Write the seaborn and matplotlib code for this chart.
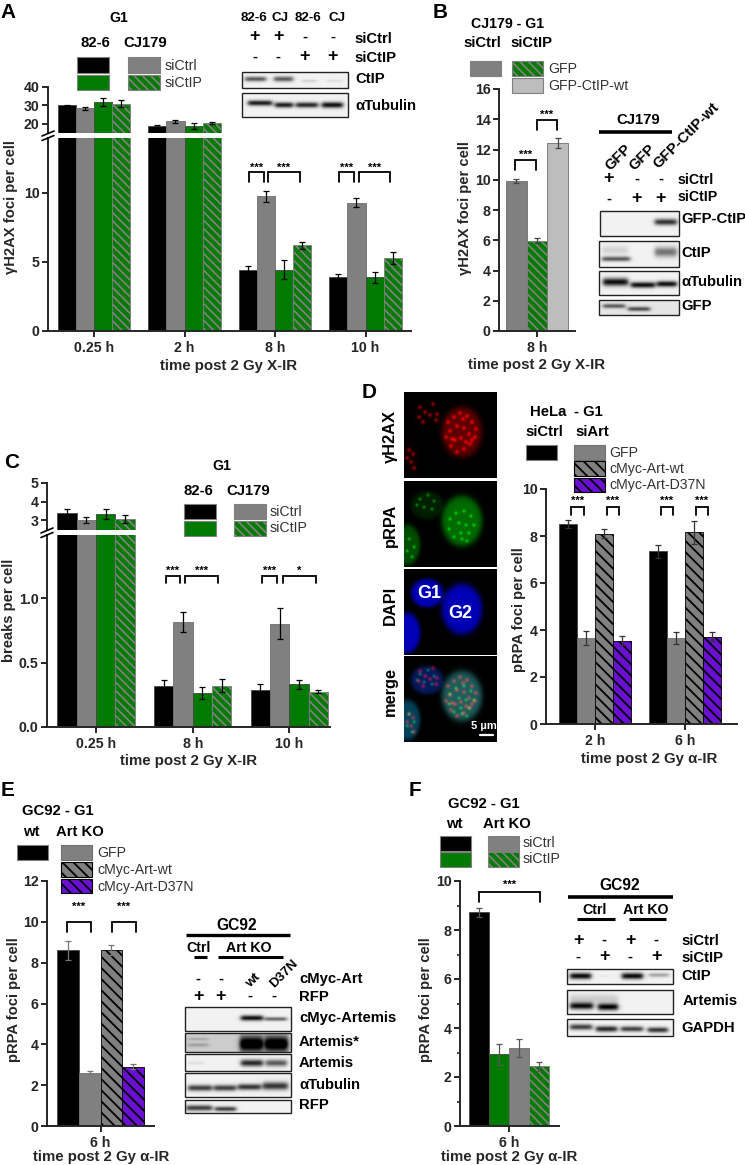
import numpy as np
import pandas as pd
import matplotlib
matplotlib.use('Agg')
import matplotlib.pyplot as plt
from matplotlib.patches import Rectangle
import seaborn as sns

# ---- values ----
series_a = ['82-6 siCtrl', 'CJ179 siCtrl', '82-6 siCtIP', 'CJ179 siCtIP']
times_a = ['0.25 h', '2 h', '8 h', '10 h']
foci_a = [30.2, 28.4, 31.8, 31.0, 18.8, 21.5, 18.8, 20.6, 4.4, 9.75, 4.45, 6.2, 3.9, 9.3, 3.9, 5.3]
err_a = [0.3, 1.0, 2.3, 2.0, 0.5, 0.8, 1.5, 0.7, 0.3, 0.4, 0.7, 0.25, 0.25, 0.35, 0.4, 0.45]

series_b = ['siCtrl GFP', 'siCtIP GFP', 'siCtIP GFP-CtIP-wt']
times_b = ['8 h']
foci_b = [9.93, 5.97, 12.43]
err_b = [0.15, 0.15, 0.35]

times_c = ['0.25 h', '8 h', '10 h']
breaks_c = [3.4, 3.0, 3.33, 3.05, 0.315, 0.815, 0.265, 0.32, 0.29, 0.80, 0.33, 0.275]
err_c = [0.2, 0.15, 0.25, 0.2, 0.05, 0.08, 0.045, 0.05, 0.04, 0.12, 0.035, 0.015]

series_d = ['siCtrl', 'GFP', 'cMyc-Art-wt', 'cMyc-Art-D37N']
times_d = ['2 h', '6 h']
foci_d = [8.5, 3.65, 8.1, 3.55, 7.35, 3.65, 8.15, 3.72]
err_d = [0.18, 0.3, 0.18, 0.2, 0.27, 0.25, 0.47, 0.2]

times_e = ['6 h']
foci_e = [8.6, 2.62, 8.63, 2.9]
err_e = [0.45, 0.05, 0.25, 0.12]

series_f = ['wt siCtrl', 'wt siCtIP', 'KO siCtrl', 'KO siCtIP']
foci_f = [8.72, 2.92, 3.18, 2.43]
err_f = [0.18, 0.42, 0.38, 0.2]

BLACK, GRAY, GREEN, LIGHT, PURPLE = '#000000', '#808080', '#007a00', '#bdbdbd', '#6a10d0'
HATCH_GREEN = '\\\\\\\\'
HATCH_DARK = '\\\\\\'

W, H = 745, 1165
sns.set_style('ticks')
plt.rcParams['font.family'] = ['Liberation Sans', 'DejaVu Sans']
plt.rcParams['font.weight'] = 'bold'
plt.rcParams['font.size'] = 10.2
plt.rcParams['axes.labelweight'] = 'bold'
plt.rcParams['hatch.linewidth'] = 1.3
plt.rcParams['axes.linewidth'] = 1.4

fig = plt.figure(figsize=(W / 100, H / 100), dpi=100)


def px_axes(left, right, top, bottom):
    return fig.add_axes([left / W, 1 - bottom / H, (right - left) / W, (bottom - top) / H])


def bars(ax, times, series, vals, errs, colors, hatches, x0, dx, left, right, ylim, ecol='black'):
    df = pd.DataFrame({
        'time': np.repeat(times, len(series)),
        'series': list(series) * len(times),
        'val': vals,
    })
    sns.barplot(data=df, x='time', y='val', hue='series', order=times, hue_order=series,
                palette=dict(zip(series, colors)), errorbar=None, saturation=1,
                legend=False, width=0.8, ax=ax)
    ax.set_xlim((left - x0) / dx, (right - x0) / dx)
    ax.set_ylim(*ylim)
    patches = sorted(ax.patches, key=lambda p: p.get_x())
    n = len(series)
    for i, p in enumerate(patches):
        c, h = colors[i % n], hatches[i % n]
        if h:
            hatch_col = 'black' if c in (GRAY, PURPLE) else GRAY
            p.set_hatch(h)
            p.set_edgecolor(hatch_col)
            p.set_linewidth(0.6)
        else:
            p.set_edgecolor('#444444' if c != GRAY and c != LIGHT else '#707070')
            p.set_linewidth(0.6)
    xs = [p.get_x() + p.get_width() / 2 for p in patches]
    ax.errorbar(xs, vals, yerr=errs, fmt='none', ecolor=ecol, elinewidth=0.9, capsize=2.4, capthick=0.9)
    ax.tick_params(width=1.4, length=4, pad=2)
    ax.tick_params(axis='x', pad=3)
    sns.despine(ax=ax)


def labels(ax, xl, yl, xlab, ylab, left, right, top, bottom):
    ax.set_xlabel(xl, fontsize=10.8)
    ax.set_ylabel(yl, fontsize=10.6)
    ax.xaxis.set_label_coords((xlab[0] - left) / (right - left), (bottom - xlab[1]) / (bottom - top), transform=ax.transAxes)
    ax.yaxis.set_label_coords((ylab[0] - left) / (right - left), (bottom - ylab[1]) / (bottom - top), transform=ax.transAxes)
    ax.xaxis.label.set_va('center')
    ax.yaxis.label.set_va('center')


colors_a = [BLACK, GRAY, GREEN, GREEN]
hatch_a = [None, None, None, HATCH_GREEN]

# panel A, broken y axis
ax = px_axes(48, 411, 138, 331)
bars(ax, times_a, series_a, foci_a, err_a, colors_a, hatch_a, 94, 90.5, 48, 411, (0, 13.98))
ax.set_yticks([0, 5, 10])
labels(ax, 'time post 2 Gy X-IR', 'γH2AX foci per cell', (229, 366), (11, 207), 48, 411, 138, 331)
ax = px_axes(48, 411, 87, 133)
bars(ax, times_a, series_a, foci_a, err_a, colors_a, hatch_a, 94, 90.5, 48, 411, (15.1, 40))
ax.spines['bottom'].set_visible(False)
ax.set_xticks([])
ax.set_yticks([20, 30, 40])
ax.set_xlabel('')
ax.set_ylabel('')

# panel B
ax = px_axes(499, 575, 89, 331)
bars(ax, times_b, series_b, foci_b, err_b, [GRAY, GREEN, LIGHT], [None, HATCH_GREEN, None], 537, 77.5, 499, 575, (0, 16), '#444444')
ax.set_yticks(range(0, 17, 2))
labels(ax, 'time post 2 Gy X-IR', 'γH2AX foci per cell', (537, 365), (465, 208), 499, 575, 89, 331)

# panel C, broken y axis
ax = px_axes(47, 330, 535, 727)
bars(ax, times_c, series_a, breaks_c, err_c, colors_a, hatch_a, 96, 96.7, 47, 330, (0, 1.49))
ax.set_yticks([0, 0.5, 1.0])
ax.set_yticklabels(['0.0', '0.5', '1.0'])
labels(ax, 'time post 2 Gy X-IR', 'breaks per cell', (189, 761), (9, 610), 47, 330, 535, 727)
ax = px_axes(47, 330, 483, 530)
bars(ax, times_c, series_a, breaks_c, err_c, colors_a, hatch_a, 96, 96.7, 47, 330, (2.46, 5))
ax.spines['bottom'].set_visible(False)
ax.set_xticks([])
ax.set_yticks([3, 4, 5])
ax.set_xlabel('')
ax.set_ylabel('')

# panel D
ax = px_axes(546, 737, 489, 724)
bars(ax, times_d, series_d, foci_d, err_d, [BLACK, GRAY, GRAY, PURPLE], [None, None, HATCH_DARK, HATCH_DARK], 595, 90, 546, 737, (0, 10), '#333333')
ax.set_yticks(range(0, 11, 2))
labels(ax, 'time post 2 Gy α-IR', 'pRPA foci per cell', (649, 759), (519, 610), 546, 737, 489, 724)

# panel E
ax = px_axes(47, 154, 881, 1126)
bars(ax, times_e, series_d, foci_e, err_e, [BLACK, GRAY, GRAY, PURPLE], [None, None, HATCH_DARK, HATCH_DARK], 100.5, 108.75, 47, 154, (0, 12), '#777777')
ax.set_yticks(range(0, 13, 2))
labels(ax, 'time post 2 Gy α-IR', 'pRPA foci per cell', (101, 1157), (14, 1000), 47, 154, 881, 1126)

# panel F
ax = px_axes(460, 559, 881, 1126)
bars(ax, times_e, series_f, foci_f, err_f, [BLACK, GREEN, GRAY, GREEN], [None, None, None, HATCH_GREEN], 509, 100, 460, 559, (0, 10), '#555555')
ax.set_yticks(range(0, 11, 2))
ax.set_yticks(range(1, 11, 2), minor=True)
ax.tick_params(which='minor', width=1.2, length=2.5)
labels(ax, 'time post 2 Gy α-IR', 'pRPA foci per cell', (509, 1157), (426, 1000), 460, 559, 881, 1126)

# overlay in figure pixels for legends, brackets, blots and micrographs
ov = fig.add_axes([0, 0, 1, 1])
ov.set_xlim(0, W)
ov.set_ylim(H, 0)
ov.axis('off')
ov.patch.set_alpha(0)


def t(x, y, s, ha='center', fs=9.5, w='bold', rot=0, color='black', va='center'):
    ov.text(x, y, s, ha=ha, va=va, fontsize=fs * 1.07, fontweight=w, rotation=rot, color=color,
            rotation_mode='anchor' if rot else 'default')


def swatch(x0, y0, x1, y1, color, hatch=None, ec=None):
    if ec is None:
        ec = 'black' if color in (GRAY, PURPLE) and hatch else GRAY
    ov.add_patch(Rectangle((x0, y0), x1 - x0, y1 - y0, facecolor=color, edgecolor=ec, hatch=hatch, lw=0.8))


def bracket(x0, x1, top, bot, star='***', sy=None, lw=1.3):
    ov.plot([x0, x0, x1, x1], [bot, top, top, bot], color='black', lw=lw, solid_joinstyle='miter')
    t((x0 + x1) / 2, (top - 3) if sy is None else sy, star, fs=7.5, w='bold')


def rule(x0, x1, y, lw=2.2):
    ov.plot([x0, x1], [y, y], color='black', lw=lw, solid_capstyle='butt')


def breakmark(x, y):
    for d in (-2, 2.5):
        ov.plot([x - 6, x + 6], [y + d + 2.5, y + d - 2.5], color='black', lw=1.2)


def signs(xs, y, marks):
    for x, m in zip(xs, marks):
        t(x, y, m, fs=12 if m == '+' else 10)


def blot(x0, y0, x1, y1, bands, bg=0.95, lw=1.0):
    xx, yy = np.meshgrid(np.linspace(x0, x1, int((x1 - x0) * 3)), np.linspace(y0, y1, int((y1 - y0) * 3)))
    img = np.full(xx.shape, float(bg))
    for xa, xb, yc, th, dark in bands:
        prof = (1 / (1 + np.exp(-(xx - xa) * 0.8))) * (1 / (1 + np.exp((xx - xb) * 0.8)))
        img -= dark * prof * np.exp(-((yy - yc) / (th * 1.25)) ** 2)
    ov.imshow(np.clip(img, 0, 1), cmap='gray', vmin=0, vmax=1, extent=(x0, x1, y1, y0), aspect='auto', interpolation='bilinear')
    ov.add_patch(Rectangle((x0, y0), x1 - x0, y1 - y0, fill=False, edgecolor='#222222', lw=lw))


# panel letters
for x, y, s in [(8, 12, 'A'), (440, 12, 'B'), (12, 462, 'C'), (369, 393, 'D'), (8, 791, 'E'), (415, 791, 'F')]:
    t(x, y, s, fs=14)

# A annotations
t(119, 18, 'G1')
t(95, 43, '82-6', fs=10)
t(145, 43, 'CJ179', fs=10)
swatch(77, 57, 109, 73, BLACK)
swatch(77, 75, 109, 90, GREEN)
swatch(128, 57, 160, 73, GRAY)
swatch(128, 75, 160, 90, GREEN, HATCH_GREEN)
t(165, 66, 'siCtrl', ha='left', w='normal', color='#333333')
t(165, 83, 'siCtIP', ha='left', w='normal', color='#333333')
breakmark(48, 135.5)
bracket(249, 264, 172, 182, sy=168)
bracket(268, 300, 172, 182, sy=168)
bracket(339, 354, 172, 182, sy=168)
bracket(359, 390, 172, 182, sy=168)
for x, s in [(254, '82-6'), (280, 'CJ'), (308, '82-6'), (337, 'CJ')]:
    t(x, 18, s, fs=9)
signs([255, 278, 305, 333], 37, '++--')
signs([255, 278, 305, 333], 57, '--++')
t(354, 39, 'siCtrl', ha='left', fs=10)
t(354, 58, 'siCtIP', ha='left', fs=10)
blot(242, 72, 348, 88, [(245, 266, 79, 2.0, 0.6), (274, 293, 79, 2.2, 0.6), (302, 317, 81, 1.2, 0.12), (327, 343, 81, 1.2, 0.08)])
blot(242, 93, 348, 117, [(248, 272, 103, 2.2, 0.85), (275, 293, 105, 2.2, 0.85), (296, 318, 105, 2.2, 0.8), (322, 343, 105, 2.4, 0.9)])
t(355, 79, 'CtIP', ha='left', fs=10)
t(355, 106, 'αTubulin', ha='left', fs=10)

# B annotations
t(508, 24, 'CJ179 - G1')
t(482, 43, 'siCtrl', fs=10)
t(531, 43, 'siCtIP', fs=10)
swatch(470, 61, 501, 76, GRAY)
swatch(512, 61, 543, 76, GREEN, HATCH_GREEN)
swatch(512, 78, 543, 93, LIGHT)
t(548, 69, 'GFP', ha='left', w='normal', color='#333333')
t(548, 86, 'GFP-CtIP-wt', ha='left', w='normal', color='#333333')
bracket(515, 536, 160, 170, sy=155)
bracket(537, 557, 120, 130, sy=115)
t(638, 120, 'CJ179', fs=10)
rule(599, 672, 132, 2.6)
t(608, 168, 'GFP', ha='left', rot=45, fs=10)
t(632, 168, 'GFP', ha='left', rot=45, fs=10)
t(656, 166, 'GFP-CtIP-wt', ha='left', rot=45, fs=10)
signs([609, 637, 661], 179, '+--')
signs([609, 637, 661], 199, '-++')
t(678, 180, 'siCtrl', ha='left')
t(678, 197, 'siCtIP', ha='left')
blot(600, 211, 679, 236, [(655, 677, 222, 2.6, 0.75)])
blot(599, 241, 679, 267, [(602, 630, 259, 2.0, 0.6), (655, 677, 252, 4.0, 0.5), (602, 628, 250, 3.5, 0.12)])
blot(599, 271, 679, 295, [(603, 628, 282, 3.2, 0.9), (631, 655, 285, 2.4, 0.9), (657, 677, 284, 2.4, 0.9)])
blot(599, 300, 679, 315, [(603, 625, 306, 1.8, 0.55), (628, 650, 309, 1.8, 0.6)], bg=0.9)
t(681, 219, 'GFP-CtIP', ha='left', fs=10)
t(681, 253, 'CtIP', ha='left', fs=10)
t(681, 282, 'αTubulin', ha='left', fs=10)
t(681, 306, 'GFP', ha='left', fs=10)

# C annotations
t(222, 466, 'G1')
t(198, 491, '82-6', fs=10)
t(248, 491, 'CJ179', fs=10)
swatch(184, 504, 216, 519, BLACK)
swatch(184, 521, 216, 536, GREEN)
swatch(234, 504, 266, 519, GRAY)
swatch(234, 521, 266, 536, GREEN, HATCH_GREEN)
t(270, 512, 'siCtrl', ha='left', w='normal', color='#333333')
t(270, 528, 'siCtIP', ha='left', w='normal', color='#333333')
breakmark(47, 532.5)
bracket(166, 180, 576, 583, sy=571)
bracket(185, 218, 576, 583, sy=571)
bracket(262, 277, 576, 583, sy=571)
bracket(283, 316, 576, 583, '*', sy=571)

# D micrographs, spot positions in panel pixels
red_g2 = [(44, 30), (50, 25), (56, 21), (63, 24), (68, 30), (72, 37), (71, 45), (66, 52), (60, 57), (53, 60), (47, 54),
          (42, 45), (46, 39), (53, 34), (60, 36), (65, 42), (57, 46), (51, 48), (59, 27), (48, 47), (68, 48), (62, 50)]
red_g1 = [(16, 15), (21, 20), (29, 12), (33, 22), (32, 28), (26, 23), (19, 30), (15, 25)]
red_low = [(5, 58), (9, 62), (7, 70), (10, 76), (3, 66)]
green_g2 = [(46, 38), (52, 32), (60, 30), (67, 35), (70, 44), (65, 52), (58, 58), (50, 56), (45, 48), (55, 42), (62, 44), (63, 60), (57, 52)]
green_g1 = [(16, 18), (24, 14), (30, 20), (20, 26), (28, 28), (13, 24)]
green_low = [(5, 58), (10, 66), (3, 70), (8, 76)]
nuclei = [(58, 40, 20, 25), (23, 24, 16, 14), (3, 64, 13, 20)]


def field(spots, size, amp):
    yy, xx = np.mgrid[0:86:258j, 0:93:279j]
    img = np.zeros(xx.shape)
    for sx, sy in spots:
        img += amp * np.exp(-((xx - sx) ** 2 + (yy - sy) ** 2) / size ** 2)
    return img


def body(levels):
    yy, xx = np.mgrid[0:86:258j, 0:93:279j]
    img = np.zeros(xx.shape)
    for (cx, cy, rx, ry), lv in zip(nuclei, levels):
        r = np.sqrt(((xx - cx) / rx) ** 2 + ((yy - cy) / ry) ** 2)
        img += lv / (1 + np.exp((r - 1) * 14))
    return img


r_spots = field(red_g2 + red_g1 + red_low, 1.9, 0.6)
r_ch = r_spots + body([0.36, 0.02, 0.03])
g_ch = field(green_g2 + green_g1 + green_low, 1.5, 0.45) + body([0.42, 0.12, 0.3])
b_ch = body([0.72, 0.72, 0.72])
zero = np.zeros(r_ch.shape)
panels = [
    (392, np.dstack([r_ch, zero, zero])),
    (481, np.dstack([zero, g_ch, zero])),
    (569, np.dstack([zero, zero, b_ch])),
    (656, np.dstack([r_spots * 0.9 + body([0.12, 0.02, 0.02]), g_ch * 0.85, b_ch * 0.5])),
]
for top, rgb in panels:
    ov.imshow(np.clip(rgb, 0, 1), extent=(404, 497, top + 86, top), aspect='auto', interpolation='bilinear')
for y, s in [(437, 'γH2AX'), (525, 'pRPA'), (605, 'DAPI'), (692, 'merge')]:
    t(390, y, s, rot=90, fs=11)
t(429, 593, 'G1', color='white', fs=12)
t(460, 614, 'G2', color='white', fs=12)
t(484, 726, '5 µm', color='white', fs=7.5)
ov.plot([480, 493], [735, 735], color='white', lw=1.6)

# D legend
t(548, 412, 'HeLa', fs=10)
t(588, 412, '- G1', fs=10)
t(544, 432, 'siCtrl', fs=10)
t(592, 432, 'siArt', fs=10)
swatch(526, 445, 557, 460, BLACK)
swatch(574, 445, 605, 460, GRAY, ec='#707070')
swatch(574, 461, 605, 476, GRAY, HATCH_DARK)
swatch(574, 478, 605, 492, PURPLE, HATCH_DARK)
t(609, 453, 'GFP', ha='left', w='normal', color='#333333')
t(609, 469, 'cMyc-Art-wt', ha='left', w='normal', color='#333333')
t(609, 485, 'cMyc-Art-D37N', ha='left', w='normal', color='#333333')
for a, b in [(571, 584), (607, 619), (661, 673), (696, 708)]:
    bracket(a, b, 507, 515, sy=501)

# E annotations
t(22, 811, 'GC92 - G1', ha='left', fs=10)
t(31, 832, 'wt', fs=10)
t(80, 832, 'Art KO', fs=10)
swatch(17, 845, 48, 860, BLACK)
swatch(61, 845, 92, 860, GRAY, ec='#707070')
swatch(61, 862, 92, 877, GRAY, HATCH_DARK)
swatch(61, 879, 92, 893, PURPLE, HATCH_DARK)
t(97, 853, 'GFP', ha='left', w='normal', color='#333333')
t(97, 870, 'cMyc-Art-wt', ha='left', w='normal', color='#333333')
t(97, 887, 'cMcy-Art-D37N', ha='left', w='normal', color='#333333')
bracket(67, 91, 922, 932, sy=907)
bracket(112, 136, 922, 932, sy=907)
t(237, 925, 'GC92', fs=10.5)
rule(186, 290, 935, 2.4)
t(199, 948, 'Ctrl')
t(249, 948, 'Art KO')
rule(194, 207, 957)
rule(218, 283, 957)
signs([198, 221], 979, '--')
t(248, 986, 'wt', ha='left', rot=45, fs=9)
t(272, 986, 'D37N', ha='left', rot=45, fs=9)
t(299, 979, 'cMyc-Art', ha='left', fs=10)
signs([198, 221, 250, 274], 996, '++--')
t(299, 997, 'RFP', ha='left', fs=10)
blot(185, 1007, 291, 1031, [(241, 263, 1018, 2.2, 0.9), (265, 287, 1019, 1.6, 0.55)])
blot(185, 1033, 291, 1052, [(240, 263, 1044, 6.5, 1.0), (265, 288, 1044, 6.5, 1.0), (188, 208, 1045, 1.5, 0.18), (188, 208, 1039, 1.2, 0.14)], bg=0.8)
blot(185, 1054, 291, 1071, [(241, 263, 1063, 2.8, 0.8), (266, 287, 1063, 2.8, 0.6), (188, 205, 1063, 1.5, 0.07)])
blot(185, 1073, 291, 1097, [(188, 212, 1088, 2.5, 0.7), (214, 236, 1088, 2.5, 0.7), (238, 261, 1087, 2.5, 0.75), (263, 288, 1086, 3.2, 0.75)])
blot(185, 1100, 291, 1113, [(186, 212, 1108, 2.4, 0.7), (215, 236, 1109, 2.0, 0.7)])
for y, s in [(1018, 'cMyc-Artemis'), (1042, 'Artemis*'), (1063, 'Artemis'), (1085, 'αTubulin'), (1105, 'RFP')]:
    t(299, y, s, ha='left', fs=10)

# F annotations
t(484, 804, 'GC92 - G1', fs=10)
t(454, 824, 'wt', fs=10)
t(507, 824, 'Art KO', fs=10)
swatch(440, 836, 471, 851, BLACK)
swatch(440, 852, 471, 867, GREEN)
swatch(488, 836, 519, 851, GRAY)
swatch(488, 852, 519, 867, GREEN, HATCH_GREEN)
t(523, 843, 'siCtrl', ha='left', w='normal', color='#333333')
t(523, 859, 'siCtIP', ha='left', w='normal', color='#333333')
bracket(479, 540, 892, 902, sy=885)
t(620, 886, 'GC92', fs=10.5)
rule(568, 673, 897, 2.6)
t(595, 910, 'Ctrl')
t(646, 910, 'Art KO')
rule(577, 615, 919)
rule(629, 666, 919)
signs([578, 604, 630, 656], 940, '+-+-')
signs([578, 604, 630, 656], 957, '-+-+')
t(681, 941, 'siCtrl', ha='left', fs=10)
t(681, 958, 'siCtIP', ha='left', fs=10)
blot(567, 969, 673, 984, [(570, 591, 976, 2.6, 0.92), (622, 643, 976, 2.6, 0.92), (649, 669, 975, 1.8, 0.3), (600, 610, 976, 1.0, 0.05)])
blot(567, 990, 673, 1014, [(570, 593, 1006, 2.8, 0.9), (598, 618, 1007, 2.8, 0.95), (570, 618, 999, 4.0, 0.15)])
blot(567, 1019, 673, 1036, [(570, 592, 1027, 2.4, 0.7), (596, 617, 1029, 2.4, 0.8), (621, 643, 1029, 2.2, 0.7), (648, 668, 1030, 2.2, 0.75)])
t(681, 976, 'CtIP', ha='left', fs=10)
t(683, 1001, 'Artemis', ha='left', fs=10)
t(681, 1028, 'GAPDH', ha='left', fs=10)

ov.set_xlim(0, W)
ov.set_ylim(H, 0)
fig.savefig('out.png', dpi=100)
